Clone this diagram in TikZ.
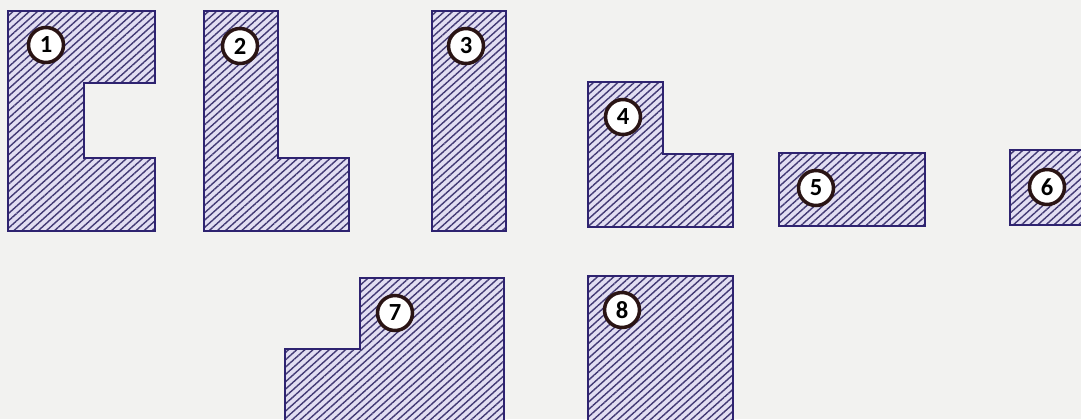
\documentclass[tikz,border=0pt]{standalone}
\usepackage{fontspec}
\setmainfont{Carlito}
\usetikzlibrary{patterns.meta}
\definecolor{paper}{HTML}{F2F2F0}
\definecolor{navy}{HTML}{2E2370}
\definecolor{lav}{HTML}{E2DEF2}
\definecolor{ink}{HTML}{2A1414}

\begin{document}
\begin{tikzpicture}[x=0.02cm, y=-0.02cm,
    piece/.style={draw=navy, line width=1.4pt, line join=miter,
      preaction={fill=lav},
      pattern={Lines[angle=42, distance=3.1pt, line width=0.8pt]}, pattern color=navy!75!gray},
    tag/.style={circle, draw=ink, line width=2pt, fill=white, minimum size=0.7cm,
      inner sep=0pt, font=\fontsize{14}{14}\selectfont\bfseries}]
    % Page
    \fill[paper] (0,0) rectangle (1081,419);
    \useasboundingbox (0,0) rectangle (1081,419);
    \clip (0,0) rectangle (1081,419);
    % Piece 1
    \draw[piece] (8,11) -- (155,11) -- (155,83) -- (84,83) -- (84,158) -- (155,158) -- (155,231) -- (8,231) -- cycle;
    \node[tag] (n1) at (46,45) {1};
    % Piece 2
    \draw[piece] (204,11) -- (278,11) -- (278,158) -- (349,158) -- (349,231) -- (204,231) -- cycle;
    \node[tag] (n2) at (240,46) {2};
    % Piece 3
    \draw[piece] (432,11) rectangle (506,231);
    \node[tag] (n3) at (466,46) {3};
    % Piece 4
    \draw[piece] (588,82) -- (663,82) -- (663,154) -- (733,154) -- (733,227) -- (588,227) -- cycle;
    \node[tag] (n4) at (623,117) {4};
    % Piece 5
    \draw[piece] (779,153) rectangle (925,226);
    \node[tag] (n5) at (816,188) {5};
    % Piece 6
    \draw[piece] (1010,150) rectangle (1100,225);
    \node[tag] (n6) at (1047,187) {6};
    % Piece 7
    \draw[piece] (360,278) -- (504,278) -- (504,440) -- (285,440) -- (285,349) -- (360,349) -- cycle;
    \node[tag] (n7) at (395,313) {7};
    % Piece 8
    \draw[piece] (588,276) rectangle (733,440);
    \node[tag] (n8) at (622,310) {8};
\end{tikzpicture}
\end{document}
